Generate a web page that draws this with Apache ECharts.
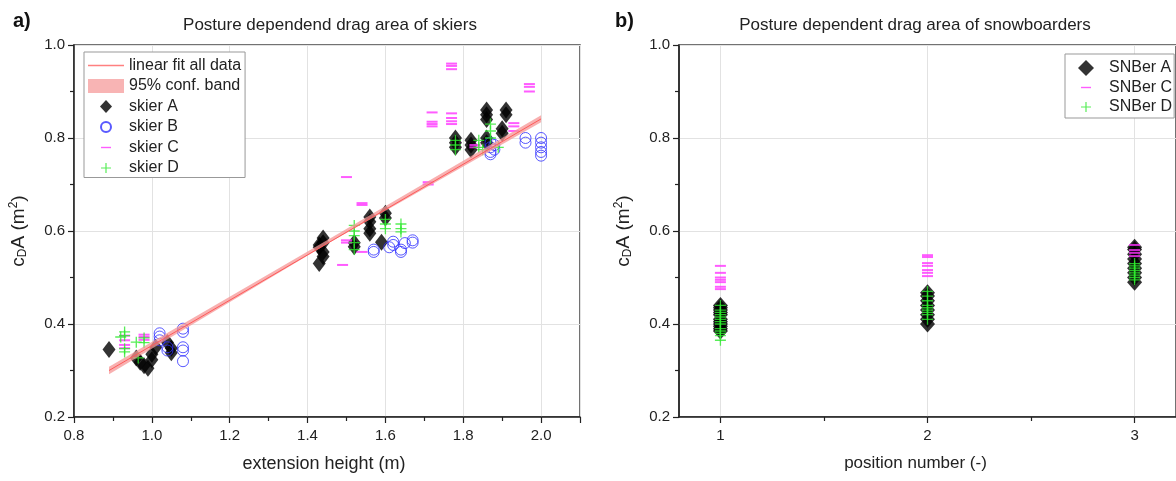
<!DOCTYPE html>
<html>
<head>
<meta charset="utf-8">
<script src="https://cdn.jsdelivr.net/npm/echarts@6/dist/echarts.min.js"></script>
<style>
  html, body { margin: 0; padding: 0; background: #fff; }
  #chart { width: 1176px; height: 481px; }
</style>
</head>
<body>
<div id="chart"></div>
<script>
// skiers: extension height (m) vs cDA (m2)
var skierA_x = [0.89, 0.96, 0.97, 0.98, 0.99, 1.00, 1.00, 1.01, 1.04, 1.05, 1.05,
                1.43, 1.44, 1.44, 1.43, 1.44, 1.44, 1.43,
                1.52, 1.52,
                1.56, 1.56, 1.56, 1.56,
                1.60, 1.60, 1.59,
                1.78, 1.78, 1.78,
                1.82, 1.82, 1.82,
                1.86, 1.86, 1.86, 1.86, 1.86,
                1.91, 1.91, 1.90, 1.90];
var skierA_y = [0.345, 0.327, 0.318, 0.31, 0.305, 0.323, 0.335, 0.35, 0.36, 0.338, 0.348,
                0.53, 0.545, 0.555, 0.565, 0.575, 0.585, 0.57,
                0.566, 0.575,
                0.595, 0.605, 0.62, 0.63,
                0.628, 0.638, 0.576,
                0.78, 0.79, 0.80,
                0.775, 0.785, 0.795,
                0.84, 0.85, 0.86, 0.80, 0.79,
                0.86, 0.85, 0.82, 0.81];

var skierB_x = [1.02, 1.02, 1.02, 1.04, 1.04, 1.08, 1.08, 1.08, 1.08, 1.08,
                1.57, 1.57, 1.61, 1.62, 1.62, 1.64, 1.64, 1.65, 1.67, 1.67,
                1.87, 1.87, 1.87, 1.87, 1.88, 1.88, 1.96, 1.96, 2.0, 2.0, 2.0, 2.0, 2.0];
var skierB_y = [0.38, 0.373, 0.365, 0.35, 0.343, 0.39, 0.383, 0.35, 0.343, 0.32,
                0.555, 0.56, 0.565, 0.577, 0.57, 0.555, 0.56, 0.574, 0.58, 0.575,
                0.79, 0.78, 0.77, 0.765, 0.775, 0.785, 0.80, 0.79, 0.80, 0.79, 0.78, 0.77, 0.762];

var skierC_x = [0.93, 0.93, 0.93, 0.93, 0.98, 0.98, 0.98,
                1.49, 1.50, 1.50, 1.54, 1.50, 1.54, 1.54,
                1.71, 1.71, 1.72, 1.72, 1.72, 1.72,
                1.77, 1.77, 1.77, 1.77, 1.77, 1.77, 1.77,
                1.83, 1.83, 1.93, 1.93, 1.93, 1.97, 1.97, 1.97];
var skierC_y = [0.375, 0.365, 0.355, 0.348, 0.377, 0.372, 0.366,
                0.527, 0.575, 0.58, 0.555, 0.716, 0.656, 0.66,
                0.705, 0.70, 0.855, 0.835, 0.83, 0.825,
                0.96, 0.955, 0.948, 0.853, 0.843, 0.836, 0.83,
                0.78, 0.785, 0.832, 0.825, 0.815, 0.916, 0.91, 0.90];

var skierD_x = [0.92, 0.93, 0.93, 0.93, 0.93, 0.96, 0.965, 0.98, 0.98,
                1.52, 1.52, 1.52, 1.52, 1.52,
                1.60, 1.60, 1.60,
                1.64, 1.64, 1.64,
                1.78, 1.78, 1.78,
                1.84, 1.84, 1.85, 1.87, 1.87, 1.87, 1.89];
var skierD_y = [0.372, 0.383, 0.375, 0.347, 0.34, 0.361, 0.327, 0.37, 0.36,
                0.56, 0.575, 0.59, 0.60, 0.612,
                0.625, 0.615, 0.605,
                0.615, 0.605, 0.598,
                0.795, 0.785, 0.775,
                0.795, 0.78, 0.775, 0.83, 0.815, 0.80, 0.78];

// linear fit and its 95% band
var fit_x = [0.89, 2.0];
var fit_y = [0.30, 0.841];
var band_x = [0.89, 1.45, 2.0];
var band_low = [0.292, 0.572, 0.834];
var band_high = [0.308, 0.580, 0.849];

// snowboarders: position number vs cDA
var positions = [1, 2, 3];
var snbA = [
    [0.385, 0.39, 0.395, 0.40, 0.405, 0.41, 0.42, 0.425, 0.43, 0.435, 0.44],
    [0.40, 0.41, 0.42, 0.43, 0.44, 0.45, 0.46, 0.467],
    [0.49, 0.50, 0.51, 0.52, 0.53, 0.54, 0.55, 0.56, 0.565]
];
var snbC = [
    [0.525, 0.51, 0.50, 0.495, 0.49, 0.48, 0.475],
    [0.548, 0.544, 0.531, 0.525, 0.516, 0.51, 0.503],
    [0.57, 0.559, 0.553, 0.546]
];
var snbD = [
    [0.365, 0.375, 0.38, 0.385, 0.39, 0.40, 0.405, 0.41, 0.415, 0.42, 0.425, 0.43, 0.44],
    [0.41, 0.42, 0.425, 0.43, 0.435, 0.44, 0.45, 0.46, 0.47],
    [0.495, 0.50, 0.505, 0.51, 0.515, 0.52, 0.525, 0.53]
];

var xTicksRight = [1, 2, 3];
var xMinorRight = [1.5, 2.5];

var FONT = 'Liberation Sans, Arial, sans-serif';
var DASH = 'path://M0,0H10V1.6H0Z';
var PLUS = 'path://M4.4,0H5.6V10H4.4ZM0,4.4H10V5.6H0Z';

// legend icons, padded to the full icon box so they are not stretched
var IC_LINE = 'path://M0,6.3H36V7.7H0Z';
var IC_DIAMOND = 'path://M0,0M36,14M18,0.5L24,7L18,13.5L12,7Z';
var IC_CIRCLE = 'path://M0,0M36,14M23,7A5,5,0,1,1,13,7A5,5,0,1,1,23,7Z';
var IC_DASH = 'path://M0,0M36,14M13,6.3H23V7.7H13Z';
var IC_PLUS = 'path://M0,0M36,14M17.4,2H18.6V12H17.4ZM13,6.4H23V7.6H13Z';
var IC_DIAMOND_B = 'path://M0,0M36,16M18,0L26,8L18,16L10,8Z';
var IC_DASH_B = 'path://M0,0M36,16M13,7.3H23V8.7H13Z';
var IC_PLUS_B = 'path://M0,0M36,16M17.4,3H18.6V13H17.4ZM13,7.4H23V8.6H13Z';

function pairs(xs, ys) {
    return xs.map(function (x, i) { return [x, ys[i]]; });
}
function groups(lists) {
    var out = [];
    lists.forEach(function (vals, g) {
        vals.forEach(function (v) { out.push([positions[g], v]); });
    });
    return out;
}

var axisLine = { show: true, onZero: false, lineStyle: { color: '#222', width: 1.5 } };
var axisLabel = { color: '#222', fontSize: 15, fontFamily: FONT, margin: 9, formatter: function (v) { return v.toFixed(1); } };
var splitLine = { show: true, lineStyle: { color: '#e2e2e2', width: 1 } };
var tickStyle = { color: '#222', width: 1.2 };
var yName = 'c{sub|D}A (m{sup|2})';
var yNameStyle = {
    fontSize: 19, color: '#222', fontFamily: FONT,
    rich: {
        sub: { fontSize: 12, fontFamily: FONT, color: '#222', verticalAlign: 'bottom', padding: [9, 0, 0, 0] },
        sup: { fontSize: 12, fontFamily: FONT, color: '#222', verticalAlign: 'top', padding: [0, 0, 9, 0] }
    }
};

function yAxisFor(grid) {
    return {
        type: 'value', gridIndex: grid, min: 0.2, max: 1.0, interval: 0.2,
        name: yName, nameLocation: 'middle', nameGap: 45, nameRotate: 90,
        nameTextStyle: yNameStyle,
        axisLine: axisLine,
        axisTick: { show: true, length: 6, lineStyle: tickStyle },
        minorTick: { show: true, splitNumber: 2, length: 4, lineStyle: tickStyle },
        axisLabel: axisLabel,
        splitLine: splitLine
    };
}

var chart = echarts.init(document.getElementById('chart'), null, { renderer: 'canvas' });

var option = {
    backgroundColor: '#fff',
    animation: false,
    textStyle: { fontFamily: FONT },
    title: [
        { text: 'a)', left: 8, top: 6, textStyle: { fontSize: 20, fontWeight: 'bold', color: '#111', fontFamily: FONT } },
        { text: 'b)', left: 610, top: 6, textStyle: { fontSize: 20, fontWeight: 'bold', color: '#111', fontFamily: FONT } },
        { text: 'Posture dependend drag area of skiers', left: 325, textAlign: 'center', top: 12,
          textStyle: { fontSize: 17, fontWeight: 'normal', color: '#222', fontFamily: FONT } },
        { text: 'Posture dependent drag area of snowboarders', left: 910, textAlign: 'center', top: 12,
          textStyle: { fontSize: 17, fontWeight: 'normal', color: '#222', fontFamily: FONT } }
    ],
    legend: [
        {
            orient: 'vertical', left: 84, top: 52, padding: [5, 4, 1, 3], itemGap: 3.5,
            itemWidth: 36, itemHeight: 14,
            backgroundColor: '#fff', borderColor: '#999', borderWidth: 1,
            textStyle: { fontSize: 16, lineHeight: 17, color: '#222', fontFamily: FONT },
            data: [
                { name: 'linear fit all data', icon: IC_LINE, itemStyle: { color: '#ff8080' } },
                { name: '95% conf. band', icon: 'rect', itemStyle: { color: '#f8b4b4' } },
                { name: 'skier A', icon: IC_DIAMOND },
                { name: 'skier B', icon: IC_CIRCLE },
                { name: 'skier C', icon: IC_DASH },
                { name: 'skier D', icon: IC_PLUS }
            ]
        },
        {
            orient: 'vertical', left: 1065, top: 54, padding: [6, 2, 3, 3], itemGap: 3.5,
            itemWidth: 36, itemHeight: 16,
            backgroundColor: '#fff', borderColor: '#999', borderWidth: 1,
            textStyle: { fontSize: 16, lineHeight: 16, color: '#222', fontFamily: FONT },
            data: [
                { name: 'SNBer A', icon: IC_DIAMOND_B },
                { name: 'SNBer C', icon: IC_DASH_B },
                { name: 'SNBer D', icon: IC_PLUS_B }
            ]
        }
    ],
    grid: [
        { left: 74, top: 45, width: 506, height: 372, show: true, borderColor: '#444', borderWidth: 1.5, backgroundColor: 'transparent' },
        { left: 679, top: 45, width: 504, height: 372, show: true, borderColor: '#444', borderWidth: 1.5, backgroundColor: 'transparent' }
    ],
    xAxis: [
        {
            type: 'value', gridIndex: 0, min: 0.8, max: 2.1, interval: 0.2,
            name: 'extension height (m)', nameLocation: 'middle', nameGap: 38,
            nameTextStyle: { fontSize: 18, color: '#222', fontFamily: FONT, padding: [0, 6, 0, 0] },
            axisLine: axisLine,
            axisTick: { show: true, length: 6, lineStyle: tickStyle },
            minorTick: { show: true, splitNumber: 2, length: 4, lineStyle: tickStyle },
            axisLabel: Object.assign({}, axisLabel, { showMaxLabel: false, margin: 11 }),
            splitLine: splitLine
        },
        {
            type: 'value', gridIndex: 1, min: 0.8, max: 3.2, position: 'bottom',
            name: 'position number (-)', nameLocation: 'middle', nameGap: 38,
            nameTextStyle: { fontSize: 17, color: '#222', fontFamily: FONT, padding: [0, 24, 0, 0] },
            axisLine: axisLine,
            axisTick: { show: true, length: 6, customValues: xTicksRight, lineStyle: tickStyle },
            axisLabel: { color: '#222', fontSize: 15, fontFamily: FONT, margin: 11, customValues: xTicksRight,
                         formatter: function (v) { return String(v); } },
            splitLine: splitLine
        },
        {
            type: 'value', gridIndex: 1, min: 0.8, max: 3.2, position: 'bottom', offset: 0,
            axisLine: { show: false, onZero: false },
            axisTick: { show: true, length: 4, customValues: xMinorRight, lineStyle: tickStyle },
            axisLabel: { show: false },
            splitLine: { show: false }
        }
    ],
    yAxis: [yAxisFor(0), yAxisFor(1)],
    series: [
        {
            name: 'skier A', type: 'scatter', xAxisIndex: 0, yAxisIndex: 0,
            symbol: 'diamond', symbolSize: [13, 17],
            itemStyle: { color: '#000' },
            data: pairs(skierA_x, skierA_y)
        },
        {
            name: 'skier B', type: 'scatter', xAxisIndex: 0, yAxisIndex: 0,
            symbol: 'circle', symbolSize: 11,
            itemStyle: { color: 'rgba(0,0,0,0)', borderColor: '#2f2fff', borderWidth: 1 },
            data: pairs(skierB_x, skierB_y)
        },
        {
            name: 'skier C', type: 'scatter', xAxisIndex: 0, yAxisIndex: 0,
            symbol: DASH, symbolSize: [11, 2],
            itemStyle: { color: '#ff33ff' },
            data: pairs(skierC_x, skierC_y)
        },
        {
            name: 'skier D', type: 'scatter', xAxisIndex: 0, yAxisIndex: 0,
            symbol: PLUS, symbolSize: 11,
            itemStyle: { color: '#2ee82e' },
            data: pairs(skierD_x, skierD_y)
        },
        {
            name: '95% conf. band', type: 'custom', xAxisIndex: 0, yAxisIndex: 0,
            itemStyle: { color: '#f8b4b4' },
            z: 3,
            data: band_x.map(function (x, i) { return [x, band_low[i], band_high[i]]; }),
            renderItem: function (params, api) {
                if (params.dataIndex !== 0) return null;
                var pts = [];
                for (var i = 0; i < band_x.length; i++) pts.push(api.coord([band_x[i], band_high[i]]));
                for (var j = band_x.length - 1; j >= 0; j--) pts.push(api.coord([band_x[j], band_low[j]]));
                return { type: 'polygon', shape: { points: pts }, style: { fill: 'rgba(245,150,150,0.75)' } };
            }
        },
        {
            name: 'linear fit all data', type: 'line', xAxisIndex: 0, yAxisIndex: 0,
            symbol: 'none', z: 4,
            lineStyle: { color: '#ff5a5a', width: 1 },
            itemStyle: { color: '#ff8080' },
            data: pairs(fit_x, fit_y)
        },
        {
            name: 'SNBer A', type: 'scatter', xAxisIndex: 1, yAxisIndex: 1,
            symbol: 'diamond', symbolSize: [15, 17],
            itemStyle: { color: '#000' },
            data: groups(snbA)
        },
        {
            name: 'SNBer C', type: 'scatter', xAxisIndex: 1, yAxisIndex: 1,
            symbol: DASH, symbolSize: [11, 2],
            itemStyle: { color: '#ff33ff' },
            data: groups(snbC)
        },
        {
            name: 'SNBer D', type: 'scatter', xAxisIndex: 1, yAxisIndex: 1,
            symbol: PLUS, symbolSize: 11,
            itemStyle: { color: '#2ee82e' },
            data: groups(snbD)
        }
    ]
};

chart.setOption(option);
</script>
</body>
</html>
